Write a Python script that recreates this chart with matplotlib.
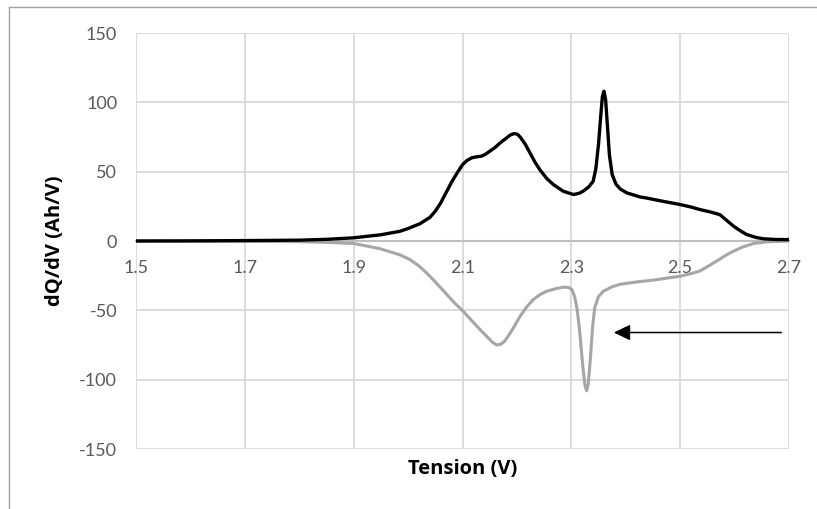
import matplotlib.pyplot as plt
from matplotlib.lines import Line2D

# charge (noir)
tension_charge = [1.50, 1.60, 1.70, 1.80, 1.85, 1.90, 1.95, 1.985, 2.00, 2.022,
                  2.040, 2.050, 2.060, 2.070, 2.080, 2.090, 2.100, 2.108, 2.117, 2.126,
                  2.135, 2.142, 2.150, 2.160, 2.169, 2.180, 2.188, 2.195, 2.201, 2.207,
                  2.215, 2.224, 2.233, 2.242, 2.255, 2.267, 2.285, 2.304, 2.315, 2.322,
                  2.332, 2.340, 2.345, 2.350, 2.354, 2.357, 2.360, 2.363, 2.366, 2.370,
                  2.375, 2.382, 2.390, 2.402, 2.426, 2.438, 2.470, 2.500, 2.520, 2.536,
                  2.555, 2.573, 2.585, 2.598, 2.610, 2.622, 2.640, 2.653, 2.675, 2.700]
dqdv_charge = [0.0, 0.1, 0.3, 0.6, 1.2, 2.3, 4.5, 7.0, 9.0, 12.5,
               17.0, 21.5, 27.5, 35.0, 42.5, 49.0, 55.0, 58.0, 60.0, 60.7,
               61.2, 62.5, 64.7, 67.5, 70.7, 74.0, 76.5, 77.5, 77.0, 74.5,
               70.0, 63.5, 57.0, 51.5, 45.0, 40.7, 35.9, 33.5, 34.5, 36.0,
               39.0, 43.0, 52.0, 70.0, 90.0, 104.0, 108.0, 102.0, 85.0, 62.0,
               48.0, 41.0, 37.5, 34.7, 31.8, 31.0, 28.5, 26.3, 24.5, 22.7,
               21.0, 19.0, 15.0, 10.7, 7.5, 4.7, 2.5, 1.6, 1.1, 1.0]

# decharge (gris)
tension_decharge = [1.50, 1.70, 1.80, 1.85, 1.90, 1.948, 1.985, 2.003, 2.020, 2.034,
                    2.050, 2.071, 2.085, 2.101, 2.116, 2.132, 2.145, 2.155, 2.163, 2.170,
                    2.177, 2.185, 2.193, 2.206, 2.218, 2.230, 2.243, 2.255, 2.270, 2.285,
                    2.295, 2.301, 2.306, 2.311, 2.316, 2.321, 2.325, 2.328, 2.331, 2.335,
                    2.339, 2.343, 2.350, 2.359, 2.375, 2.389, 2.402, 2.425, 2.451, 2.475,
                    2.500, 2.520, 2.536, 2.550, 2.567, 2.583, 2.598, 2.615, 2.635, 2.660,
                    2.700]
dqdv_decharge = [0.0, -0.2, -0.5, -1.0, -1.8, -5.5, -10.0, -13.3, -18.0, -23.0,
                 -29.5, -38.5, -44.5, -50.6, -57.0, -63.8, -69.0, -73.0, -75.0, -74.5,
                 -72.5, -68.0, -63.0, -54.2, -47.5, -42.2, -38.5, -36.2, -34.5, -33.3,
                 -33.5, -35.0, -40.0, -50.0, -68.0, -90.0, -104.0, -108.0, -103.0, -85.0,
                 -62.0, -48.0, -40.0, -36.2, -33.0, -31.3, -30.5, -29.3, -28.2, -26.8,
                 -25.4, -23.5, -21.7, -18.5, -14.5, -10.5, -7.3, -4.3, -1.8, -0.6,
                 0.0]

x_ticks = [1.5, 1.7, 1.9, 2.1, 2.3, 2.5, 2.7]
y_ticks = [-150, -100, -50, 0, 50, 100, 150]

# fleche (sens du balayage)
fleche_debut = (2.686, -66)
fleche_fin = (2.378, -66)

plt.rcParams['font.family'] = ['Lato', 'DejaVu Sans']
plt.rcParams['axes.unicode_minus'] = False

fig = plt.figure(figsize=(8.17, 5.09), dpi=100)
ax = fig.add_axes([136 / 817, 1 - 449 / 509, 653 / 817, 416 / 509])

ax.plot(tension_decharge, dqdv_decharge, color="#a6a6a6", lw=2.2,
        solid_capstyle="round", solid_joinstyle="round", zorder=3)
ax.plot(tension_charge, dqdv_charge, color="black", lw=2.4,
        solid_capstyle="round", solid_joinstyle="round", zorder=4)

ax.annotate("", xy=fleche_fin, xytext=fleche_debut,
            arrowprops=dict(arrowstyle="-|>,head_length=0.5,head_width=0.24",
                            color="black", lw=1.1, mutation_scale=20,
                            shrinkA=0, shrinkB=0), zorder=5)

ax.set_xlim(1.5, 2.7)
ax.set_ylim(-150, 150)
ax.set_xticks(x_ticks)
ax.set_yticks(y_ticks)
ax.set_xticklabels([str(t) for t in x_ticks])
ax.grid(True, color="#d9d9d9", lw=1.3)
ax.set_axisbelow(True)

for s in ["top", "right", "left"]:
    ax.spines[s].set_visible(False)
ax.spines["bottom"].set_position(("data", 0))
ax.spines["bottom"].set_color("#bfbfbf")
ax.spines["bottom"].set_linewidth(1.5)
ax.spines["bottom"].set_zorder(2)

ax.tick_params(axis="both", length=0, labelsize=13, labelcolor="#595959")
ax.tick_params(axis="x", pad=14)
ax.tick_params(axis="y", pad=13.5)

ax.set_xlabel("Tension (V)", fontsize=14.5, fontweight="bold", family=["Open Sans", "DejaVu Sans"])
ax.xaxis.set_label_coords(0.5, -0.048)
ax.xaxis.label.set_va("center")
ax.set_ylabel("dQ/dV (Ah/V)", fontsize=14.5, fontweight="bold", family=["Open Sans", "DejaVu Sans"])
ax.yaxis.set_label_coords(-0.124, 0.5)
ax.yaxis.label.set_va("center")

# bordure du cadre (haut et gauche)
fig.add_artist(Line2D([9 / 817, 1], [1 - 7 / 509, 1 - 7 / 509], color="#a0a0a0", lw=1))
fig.add_artist(Line2D([9 / 817, 9 / 817], [0, 1 - 7 / 509], color="#a0a0a0", lw=1))

fig.savefig("out.png", dpi=100)
